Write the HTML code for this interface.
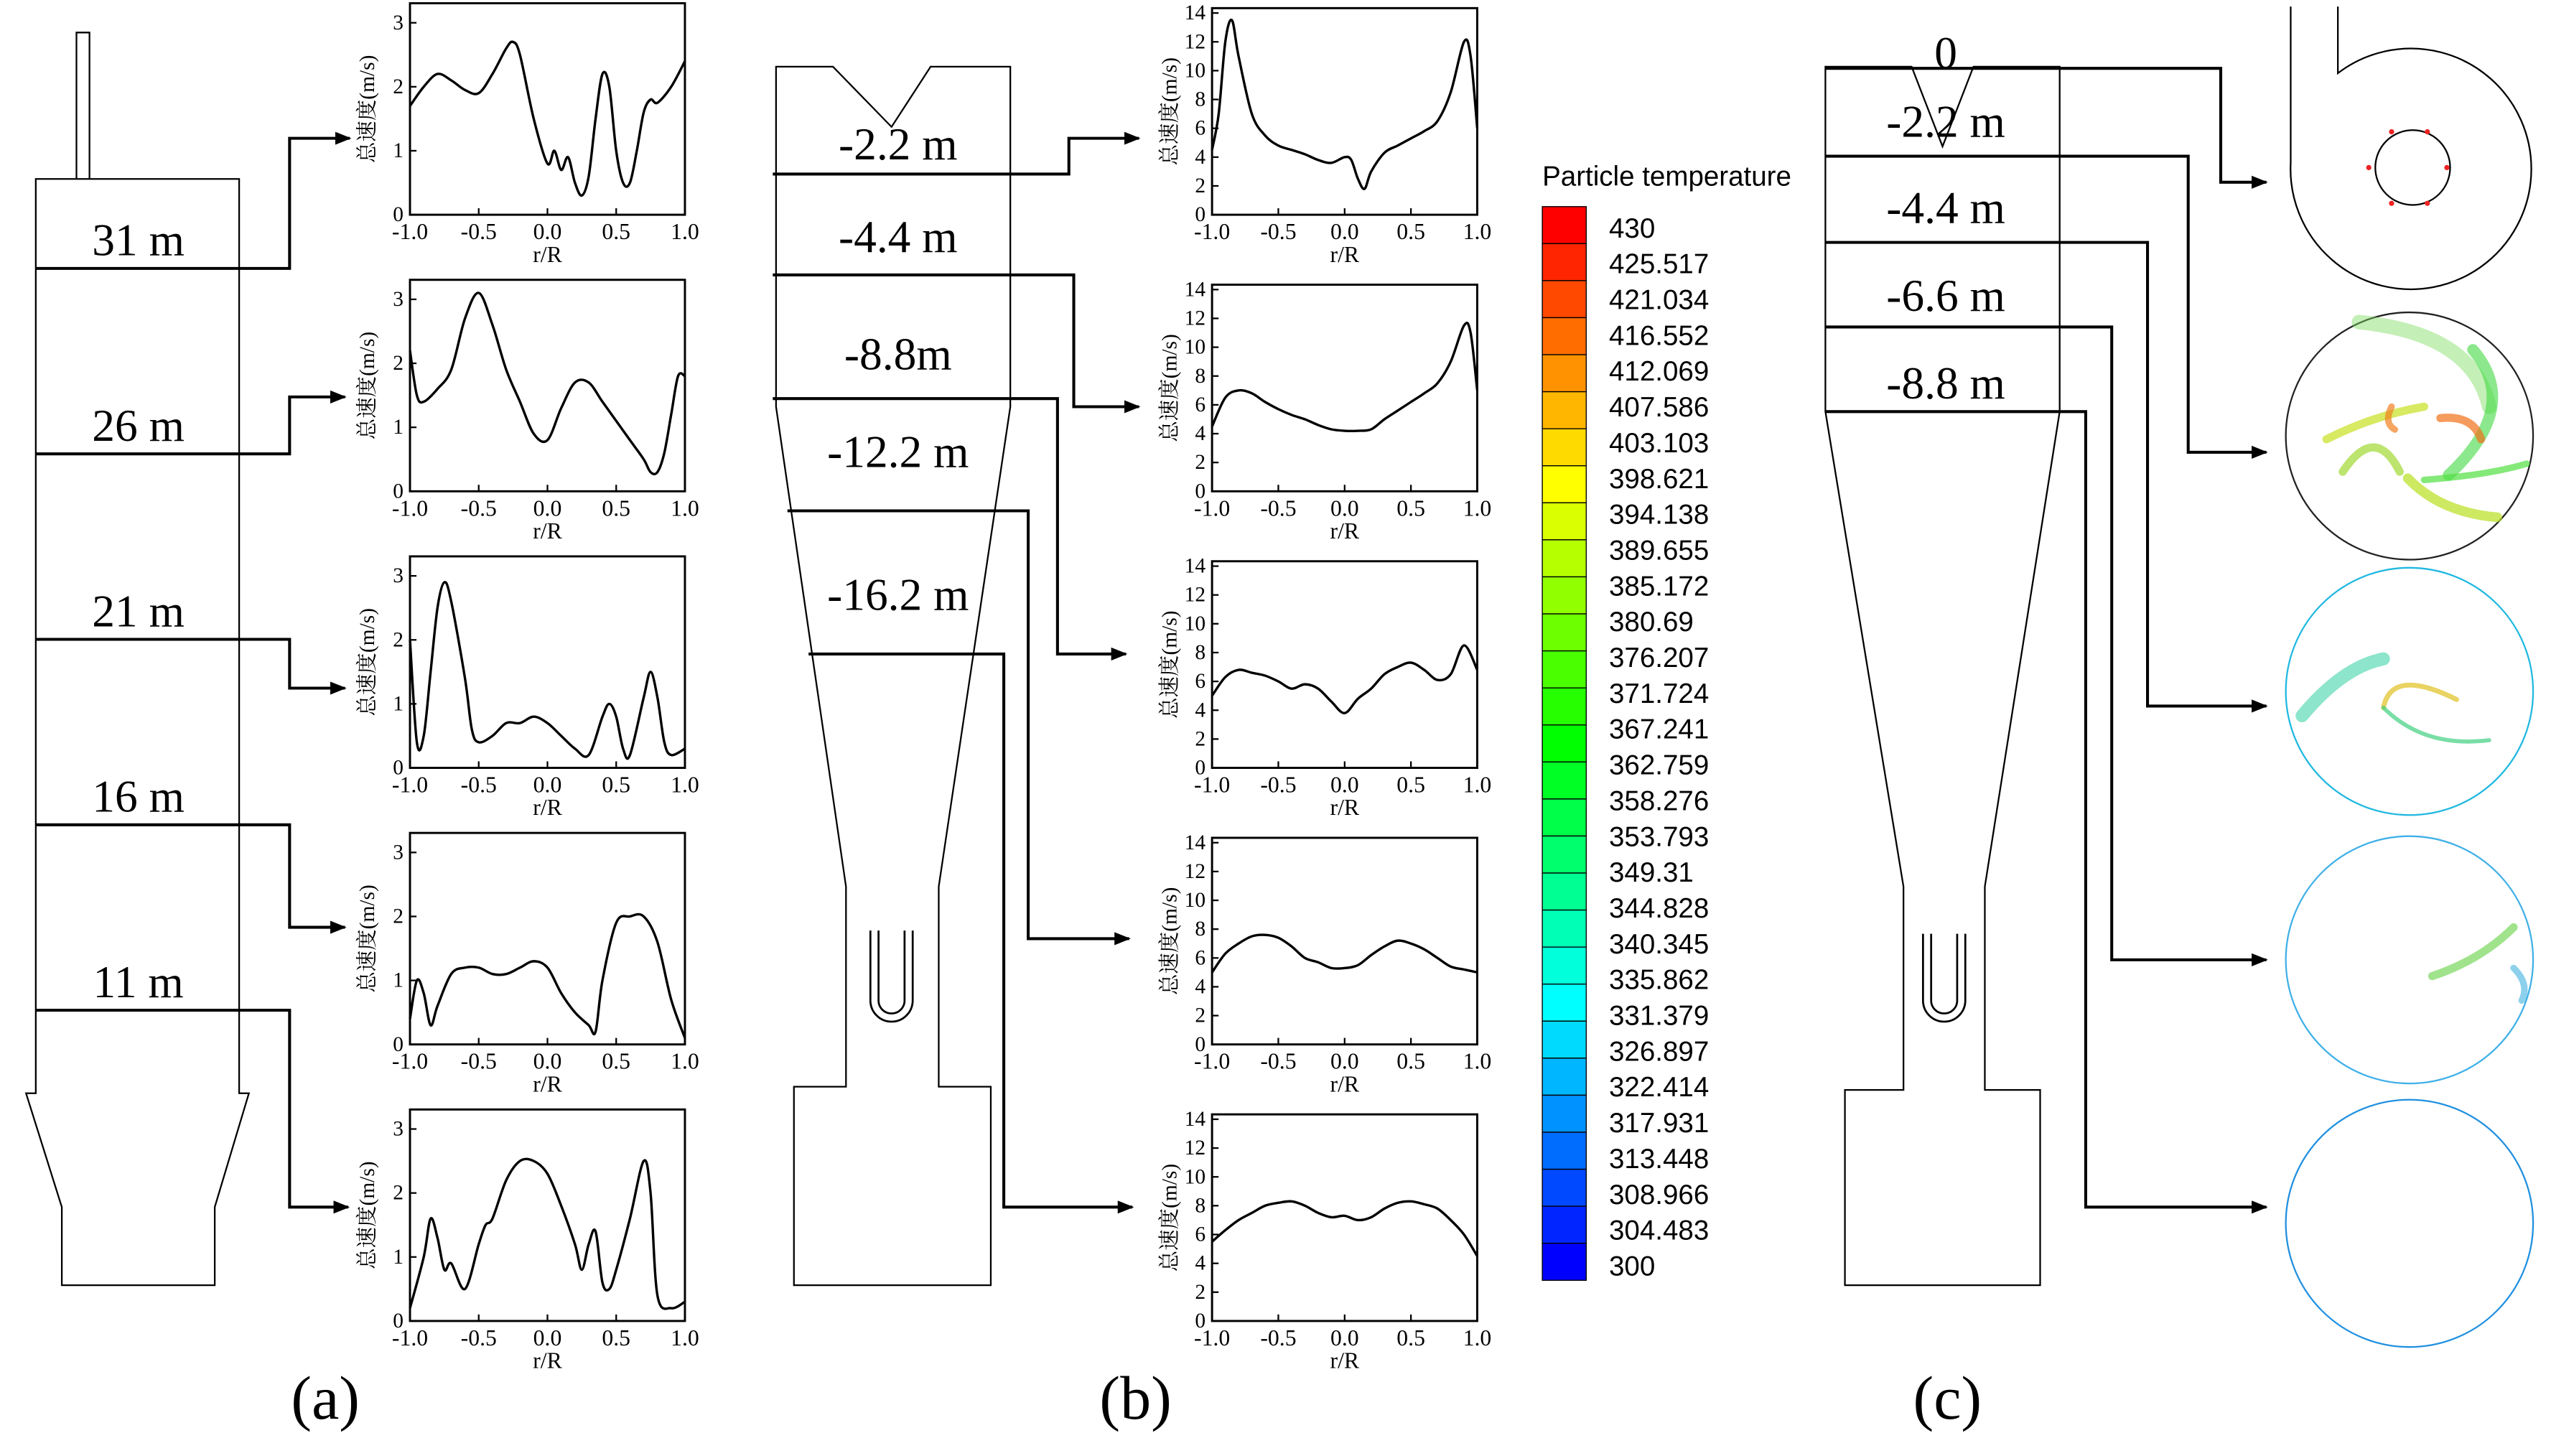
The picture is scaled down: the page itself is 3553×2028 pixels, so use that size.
<!DOCTYPE html>
<html><head><meta charset="utf-8">
<style>
html,body{margin:0;padding:0;background:#fff;}
svg{display:block;}
</style></head>
<body>
<svg id="fig" width="3553" height="2028" viewBox="0 0 1568 895" preserveAspectRatio="none" xmlns="http://www.w3.org/2000/svg">
<defs>
<marker id="arr" markerWidth="10" markerHeight="8" refX="9" refY="4" orient="auto" markerUnits="userSpaceOnUse">
<path d="M0,0 L10,4 L0,8 Z" fill="#000"/></marker>
</defs>
<g id="root" fill="none" stroke="#000" font-family="'Liberation Serif','Noto Serif CJK SC',serif"></g>
</svg>
<script>
// ---------- data ----------
const xsA1=[-1,-0.9,-0.8,-0.7,-0.6,-0.5,-0.4,-0.3,-0.25,-0.2,-0.1,0,0.05,0.1,0.15,0.2,0.25,0.3,0.35,0.4,0.45,0.5,0.55,0.6,0.65,0.7,0.75,0.8,0.9,1];
const ysA1=[1.7,2.0,2.2,2.1,1.95,1.9,2.2,2.6,2.7,2.5,1.5,0.8,1.0,0.7,0.9,0.5,0.3,0.6,1.5,2.2,2.0,1.0,0.5,0.5,1.0,1.6,1.8,1.75,2.0,2.4];
const xsA2=[-1,-0.95,-0.9,-0.8,-0.7,-0.6,-0.5,-0.4,-0.3,-0.2,-0.1,0,0.1,0.2,0.3,0.4,0.5,0.6,0.7,0.75,0.8,0.85,0.9,0.95,1];
const ysA2=[2.2,1.5,1.4,1.6,1.9,2.7,3.1,2.6,1.9,1.4,0.9,0.8,1.3,1.7,1.7,1.4,1.1,0.8,0.5,0.3,0.3,0.6,1.2,1.8,1.8];
const xsA3=[-1,-0.95,-0.9,-0.85,-0.8,-0.75,-0.7,-0.6,-0.55,-0.5,-0.4,-0.3,-0.2,-0.1,0,0.1,0.2,0.3,0.4,0.45,0.5,0.55,0.6,0.7,0.75,0.8,0.85,0.9,1];
const ysA3=[2.0,0.4,0.5,1.5,2.5,2.9,2.6,1.4,0.6,0.4,0.5,0.7,0.7,0.8,0.7,0.5,0.3,0.2,0.8,1.0,0.8,0.3,0.2,1.1,1.5,1.1,0.4,0.2,0.3];
const xsA4=[-1,-0.95,-0.9,-0.85,-0.8,-0.7,-0.6,-0.5,-0.4,-0.3,-0.2,-0.1,0,0.1,0.2,0.3,0.35,0.4,0.5,0.6,0.7,0.8,0.9,1];
const ysA4=[0.4,1.0,0.8,0.3,0.6,1.1,1.2,1.2,1.1,1.1,1.2,1.3,1.2,0.8,0.5,0.3,0.2,1.0,1.9,2.0,2.0,1.6,0.7,0.1];
const xsA5=[-1,-0.9,-0.85,-0.8,-0.75,-0.7,-0.6,-0.5,-0.45,-0.4,-0.3,-0.2,-0.1,0,0.1,0.2,0.25,0.3,0.35,0.4,0.45,0.5,0.6,0.7,0.75,0.8,0.9,1];
const ysA5=[0.2,1.0,1.6,1.3,0.8,0.9,0.5,1.2,1.5,1.6,2.2,2.5,2.5,2.3,1.8,1.2,0.8,1.2,1.4,0.6,0.5,0.8,1.6,2.5,2.0,0.4,0.2,0.3];
const xsB=[-1,-0.9,-0.8,-0.7,-0.6,-0.5,-0.4,-0.3,-0.2,-0.1,0,0.1,0.2,0.3,0.4,0.5,0.6,0.7,0.8,0.9,1];
const xsB1=[-1,-0.95,-0.9,-0.85,-0.8,-0.7,-0.6,-0.5,-0.4,-0.3,-0.2,-0.1,0,0.05,0.1,0.15,0.2,0.3,0.4,0.5,0.6,0.7,0.8,0.9,0.95,1];
const ysB1=[4.5,7,12,13.5,11,7,5.5,4.8,4.5,4.2,3.8,3.6,4.0,3.8,2.5,1.8,3,4.3,4.8,5.3,5.8,6.5,8.5,12,11,6];
const xsB2=[-1,-0.9,-0.8,-0.7,-0.6,-0.5,-0.4,-0.3,-0.2,-0.1,0,0.1,0.2,0.3,0.4,0.5,0.6,0.7,0.8,0.9,0.95,1];
const ysB2=[4.5,6.5,7,6.8,6.2,5.7,5.3,5.0,4.6,4.3,4.2,4.2,4.3,5,5.6,6.2,6.8,7.5,9,11.5,11,7];
const ysB3=[5,6.3,6.8,6.6,6.4,6.0,5.5,5.8,5.5,4.6,3.8,4.8,5.5,6.5,7,7.3,6.8,6.1,6.5,8.5,6.8];
const ysB4=[5,6.3,7.0,7.5,7.6,7.4,6.8,6.0,5.7,5.3,5.3,5.5,6.2,6.8,7.2,7.0,6.6,6.0,5.4,5.2,5.0];
const ysB5=[5.5,6.3,7.0,7.5,8,8.2,8.3,8,7.5,7.2,7.3,7.0,7.2,7.8,8.2,8.3,8.1,7.8,7,6,4.5];
const ticksA=[0,1,2,3];
const ticksB=[0,2,4,6,8,10,12,14];
const ticksX=[-1,-0.5,0,0.5,1];
const tickXLabels=["-1.0","-0.5","0.0","0.5","1.0"];
const cbLabels=["430","425.517","421.034","416.552","412.069","407.586","403.103","398.621","394.138","389.655","385.172","380.69","376.207","371.724","367.241","362.759","358.276","353.793","349.31","344.828","340.345","335.862","331.379","326.897","322.414","317.931","313.448","308.966","304.483","300"];

const NS="http://www.w3.org/2000/svg";
const root=document.getElementById('root');
function el(tag,attrs,parent){const e=document.createElementNS(NS,tag);for(const k in attrs)e.setAttribute(k,attrs[k]);(parent||root).appendChild(e);return e;}
function txt(s,x,y,size,attrs,parent){const t=el('text',Object.assign({x:x,y:y,'font-size':size,fill:'#000',stroke:'none'},attrs||{}),parent);t.textContent=s;return t;}
function smooth(pts){let d='M'+pts[0][0].toFixed(2)+','+pts[0][1].toFixed(2);for(let i=0;i<pts.length-1;i++){const p0=pts[i-1]||pts[i],p1=pts[i],p2=pts[i+1],p3=pts[i+2]||p2;const c1=[p1[0]+(p2[0]-p0[0])/6,p1[1]+(p2[1]-p0[1])/6],c2=[p2[0]-(p3[0]-p1[0])/6,p2[1]-(p3[1]-p1[1])/6];d+='C'+c1[0].toFixed(2)+','+c1[1].toFixed(2)+' '+c2[0].toFixed(2)+','+c2[1].toFixed(2)+' '+p2[0].toFixed(2)+','+p2[1].toFixed(2);}return d;}

function chart(name,x0,x1,top,zero,ymax,ytop,ticks,xs,ys){
  const g=el('g',{});
  
  
  const sx=v=>x0+(v+1)/2*(x1-x0);
  const sy=v=>zero-v/ymax*(zero-ytop);
  const box=el('rect',{x:x0,y:top,width:x1-x0,height:zero-top,'stroke-width':1.3},g);
  
  
  ticks.forEach(t=>{const y=sy(t);el('line',{x1:x0,x2:x0+4,y1:y,y2:y,'stroke-width':1},g);
    const l=txt(String(t),x0-4,y+4,13,{'text-anchor':'end'},g);
    
    });
  ticksX.forEach((t,i)=>{const x=sx(t);el('line',{x1:x,x2:x,y1:zero,y2:zero-4,'stroke-width':1},g);
    const l=txt(tickXLabels[i],x,zero+15,14,{'text-anchor':'middle'},g);
    
    });
  const xt=txt('r/R',(x0+x1)/2,zero+29,14,{'text-anchor':'middle'},g);
  
  
  const yc=(top+zero)/2;
  const yt=txt('总速度(m/s)',0,0,13,{'text-anchor':'middle',transform:'translate('+(x0-22)+','+yc+') rotate(-90)'},g);
  
  
  const pts=xs.map((x,i)=>[sx(x),sy(ys[i])]);
  const p=el('path',{d:smooth(pts),'stroke-width':1.5},g);
  
  
}
function poly(name,d,w){const p=el('path',{d:d,'stroke-width':w||1.3});return p;}
function label(name,s,x,y,size){const t=txt(s,x,y,size,{'text-anchor':'middle'});}

// ---------- panel a ----------
poly('tower-outline','M47,110 L47,20 L55,20 L55,110 M22,110 L147,110 L147,672 L153,672 L132,742 L132,790 L38,790 L38,742 L16,672 L22,672 Z',1);
const aLev=[['31 m',165,85,215],['26 m',279,244,212],['21 m',393,423,212],['16 m',507,570,212],['11 m',621,742,214]];
aLev.forEach(l=>{label('level-label',l[0],85,l[1]-8,28);
  const p=poly('level-arrow','M22,'+l[1]+' L178,'+l[1]+' L178,'+l[2]+' L'+l[3]+','+l[2],1.8);p.setAttribute('marker-end','url(#arr)');});
const aData=[[xsA1,ysA1],[xsA2,ysA2],[xsA3,ysA3],[xsA4,ysA4],[xsA5,ysA5]];
aData.forEach((d,i)=>{const top=2+i*170,zero=132+i*170;chart('chart-a'+(i+1),252,421,top,zero,3,zero-118,ticksA,d[0],d[1]);});

// ---------- panel b ----------
poly('cyclone-b-outline','M477,41 L512,41 L548,78 L572,41 L621,41 L621,250 L577,545 L577,668 L609,668 L609,790 L488,790 L488,668 L520,668 L520,545 L477,250 Z',1);
poly('u-tube-b','M535,572 L535,615 A13,13 0 0 0 561,615 L561,572 M540,572 L540,615 A8,8 0 0 0 556,615 L556,572',1.2);
const bLev=[['-2.2 m',107,475,657,85,700,88],['-4.4 m',169,475,660,250,700,145],['-8.8m',245,475,650,402,692,217],['-12.2 m',314,484,632,577,694,277],['-16.2 m',402,497,617,742,696,365]];
bLev.forEach(l=>{label('level-label',l[0],552,l[6]+10,28);
  const p=poly('level-arrow','M'+l[2]+','+l[1]+' L'+l[3]+','+l[1]+' L'+l[3]+','+l[4]+' L'+l[5]+','+l[4],1.8);p.setAttribute('marker-end','url(#arr)');});
const bData=[[xsB1,ysB1],[xsB2,ysB2],[xsB,ysB3],[xsB,ysB4],[xsB,ysB5]];
bData.forEach((d,i)=>{const zero=132+i*170;chart('chart-b'+(i+1),745,908,zero-127,zero,14,zero-124,ticksB,d[0],d[1]);});

// ---------- colorbar ----------
const cbt=txt('Particle temperature',948,114,17,{'font-family':"'Liberation Sans',sans-serif"});


function cmap(t){const h=240*(1-t);return 'hsl('+h.toFixed(1)+',100%,50%)';}
const nB=cbLabels.length-1, cbTop=127, cbBot=787, bh=(cbBot-cbTop)/nB;
for(let i=0;i<nB;i++){const r=el('rect',{x:948,y:cbTop+i*bh,width:27,height:bh,fill:cmap(1-i/(nB-1)),stroke:'#000','stroke-width':0.6});
  
  }
cbLabels.forEach((s,i)=>{const t=txt(s,989,146+i*22,17,{'font-family':"'Liberation Sans',sans-serif"});
  
  });

// ---------- panel c ----------
poly('cyclone-c-outline','M1122,41 L1175,41 L1194,90 L1213,41 L1266,41 L1266,253 L1220,545 L1220,670 L1254,670 L1254,790 L1134,790 L1134,670 L1170,670 L1170,545 L1122,253 Z',1);
poly('u-tube-c','M1182,574 L1182,615 A13,13 0 0 0 1208,615 L1208,574 M1187,574 L1187,615 A8,8 0 0 0 1203,615 L1203,574',1.2);
const cLev=[['0',42,1365,112,32],['-2.2 m',96,1345,278,74],['-4.4 m',149,1320,434,127],['-6.6 m',201,1298,590,181],['-8.8 m',253,1282,742,235]];
cLev.forEach(l=>{label('level-label',l[0],1196,l[4]+10,28);
  const p=poly('level-arrow','M1122,'+l[1]+' L'+l[2]+','+l[1]+' L'+l[2]+','+l[3]+' L1393,'+l[3],1.8);p.setAttribute('marker-end','url(#arr)');});
label('panel-label-a','(a)',200,872,38);
label('panel-label-b','(b)',698,872,38);
label('panel-label-c','(c)',1197,872,38);

// cross-section drawings
poly('inlet-section','M1408,4 L1408,100 A74,74 0 1 0 1437,45 L1437,4',1);
poly('inner-tube-circle','M1460,103 A23,23 0 1 0 1506,103 A23,23 0 1 0 1460,103',1);
[[1456,103],[1504,103],[1470,81],[1492,81],[1470,125],[1492,125]].forEach(p=>{const c=el('circle',{cx:p[0],cy:p[1],r:1.6,fill:'#e22',stroke:'none'});});
function circ(name,cy,color){const c=el('circle',{cx:1481,cy:cy,r:76,stroke:color,'stroke-width':1});}
function arm(d,color,w,op){const p=el('path',{d:d,stroke:color,'stroke-width':w,'stroke-linecap':'round',opacity:op||0.7});}
circ('section-2-2m',268,'#222');
arm('M1450,198 Q1520,205 1530,250','#7ddc60',9,0.45);
arm('M1520,215 Q1550,250 1505,292','#40d840',7,0.6);
arm('M1430,270 Q1460,255 1490,250','#c8e020',5);
arm('M1470,250 Q1465,260 1472,264','#f08020',4);
arm('M1500,257 Q1520,255 1525,270','#f07018',5);
arm('M1440,290 Q1460,260 1475,290','#a0d830',5);
arm('M1480,294 Q1500,315 1535,318','#b8e020',6);
arm('M1490,295 Q1530,292 1553,285','#50e040',4);
circ('section-4-4m',425,'#20b8e0');
arm('M1415,440 Q1440,410 1465,405','#30d0a0',8,0.55);
arm('M1465,435 Q1470,410 1510,430','#e0c020',3);
arm('M1465,435 Q1490,460 1530,455','#40d080',2.5);
circ('section-6-6m',590,'#40b0e8');
arm('M1495,600 Q1525,590 1545,570','#60d040',5,0.6);
arm('M1545,595 Q1555,605 1550,615','#40b0e0',4,0.6);
circ('section-8-8m',752,'#2090e0');
</script>
</body></html>
